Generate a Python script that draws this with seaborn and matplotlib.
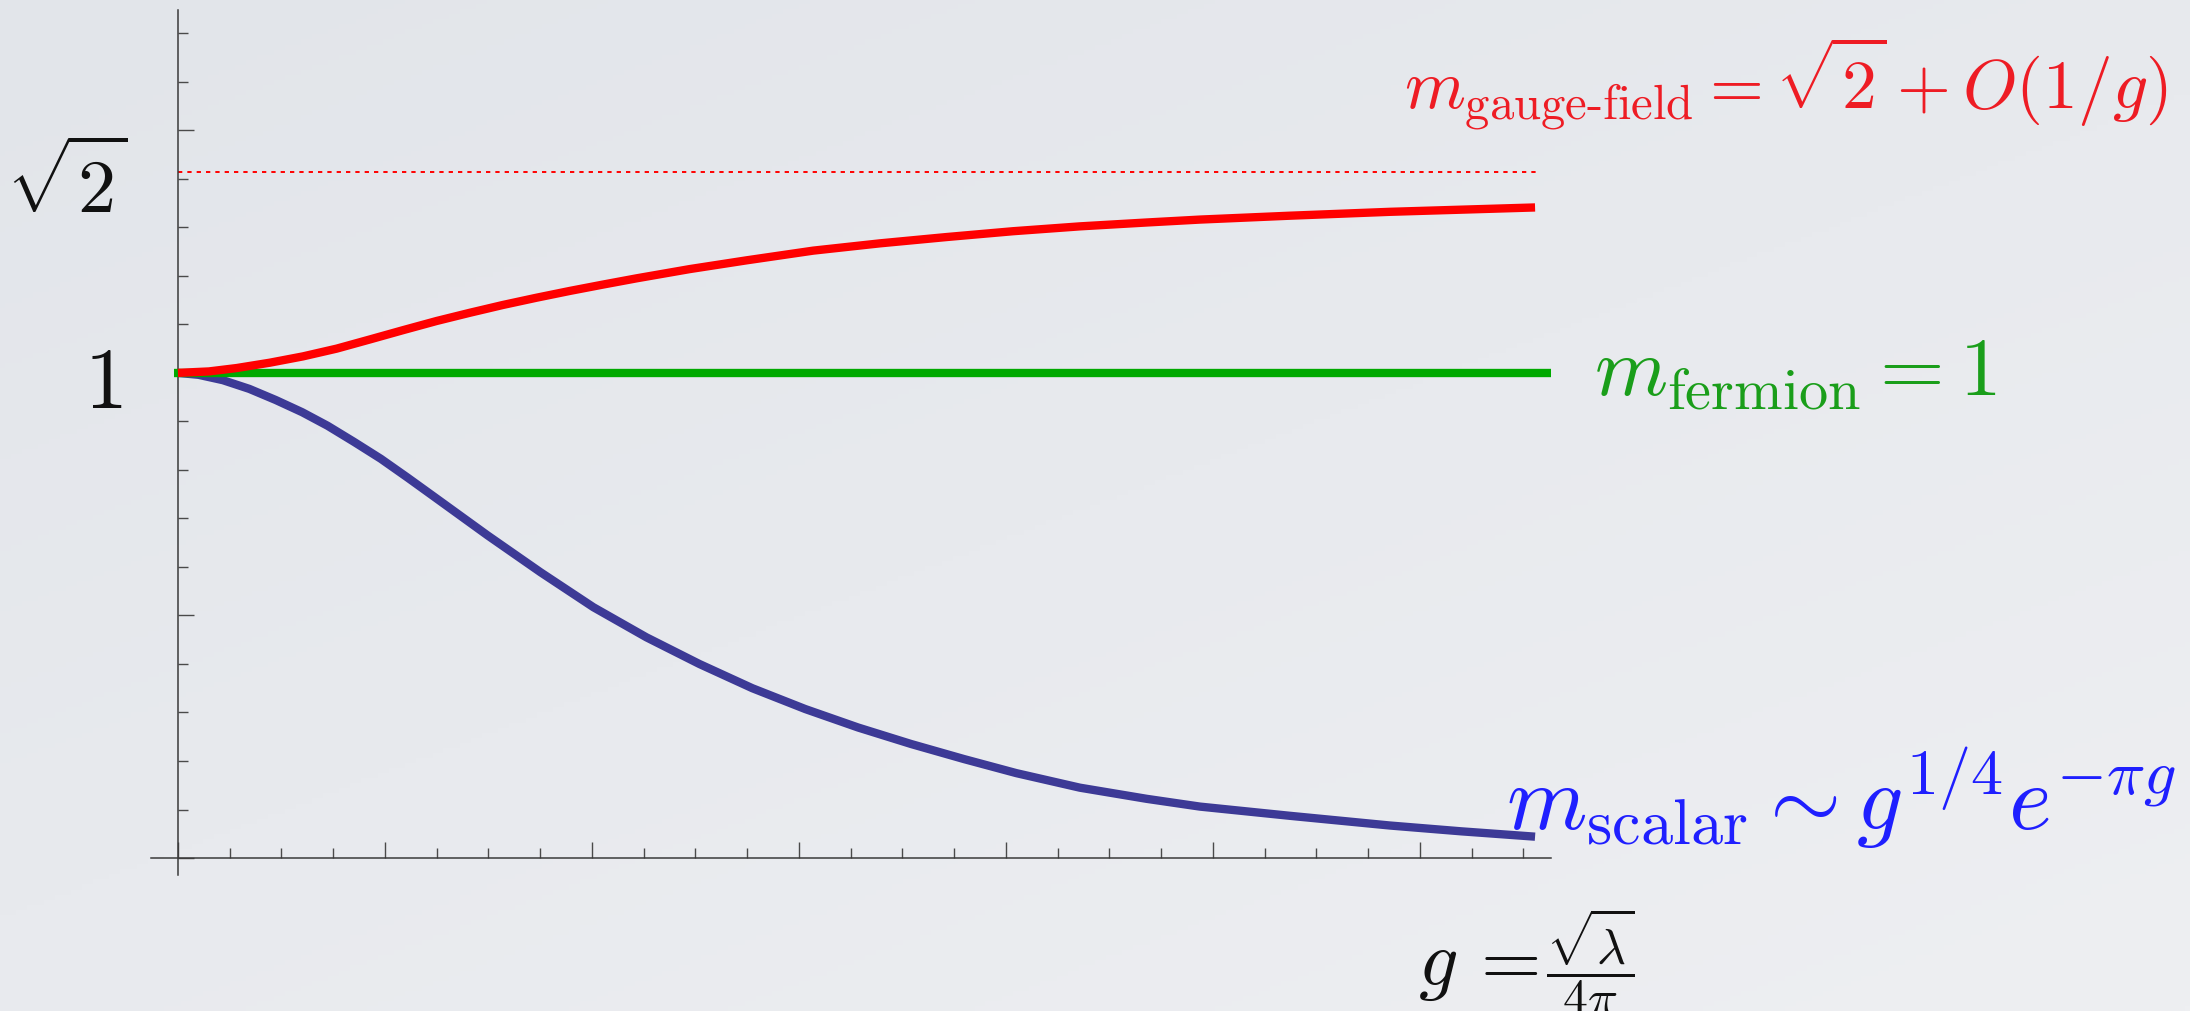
import numpy as np
import pandas as pd
import matplotlib
matplotlib.use("Agg")
import matplotlib.pyplot as plt
from matplotlib.ticker import MultipleLocator, NullFormatter
import seaborn as sns

# gauge-field mass branch, rising from 1 towards sqrt(2)
g_gauge = [0.0, 0.15, 0.284, 0.444, 0.604, 0.767, 0.928, 1.087, 1.25, 1.411, 1.57,
           1.733, 1.894, 2.053, 2.217, 2.473, 2.747, 3.069, 3.391, 3.713, 4.034,
           4.357, 4.68, 4.937, 5.372, 5.855, 6.556]
m_gauge = [1.000, 1.003, 1.010, 1.021, 1.034, 1.050, 1.069, 1.088, 1.107, 1.124, 1.140,
           1.155, 1.169, 1.182, 1.195, 1.214, 1.232, 1.252, 1.267, 1.280, 1.292,
           1.302, 1.310, 1.316, 1.324, 1.332, 1.341]

# scalar mass branch, falling off like g^(1/4) exp(-pi g)
g_scalar = [0.0, 0.1, 0.217, 0.345, 0.473, 0.6, 0.723, 0.850, 0.980, 1.110, 1.240,
            1.496, 1.752, 2.007, 2.263, 2.519, 2.775, 3.031, 3.286, 3.542, 3.797,
            4.05, 4.357, 4.68, 4.937, 5.372, 5.855, 6.2, 6.556]
m_scalar = [1.000, 0.996, 0.985, 0.967, 0.944, 0.919, 0.891, 0.858, 0.823, 0.784, 0.744,
            0.665, 0.589, 0.517, 0.455, 0.400, 0.350, 0.307, 0.269, 0.235, 0.204,
            0.175, 0.145, 0.122, 0.106, 0.087, 0.067, 0.055, 0.044]

# flat fermion mass and the sqrt(2) asymptote
g_fermion = [-0.02, 6.64]
m_fermion = [1.0, 1.0]
g_limit = [0.0, 6.57]
m_limit = [np.sqrt(2), np.sqrt(2)]

gauge = pd.DataFrame({"g": g_gauge, "m": m_gauge})
scalar = pd.DataFrame({"g": g_scalar, "m": m_scalar})

W, H = 2190, 1012
sns.set_theme(style="white")
plt.rcParams["mathtext.fontset"] = "cm"
plt.rcParams["font.family"] = ["DejaVu Serif"]

fig = plt.figure(figsize=(W / 100, H / 100), dpi=100)

# soft slide background
bg = fig.add_axes([0, 0, 1, 1], zorder=0)
yy, xx = np.mgrid[0:1:200j, 0:1:400j]
shade = 0.55 * yy + 0.45 * xx
c0 = np.array([226, 229, 234]) / 255
c1 = np.array([238, 239, 242]) / 255
img = c0[None, None, :] * (1 - shade[..., None]) + c1[None, None, :] * shade[..., None]
bg.imshow(img, aspect="auto", extent=[0, 1, 0, 1], origin="upper")
bg.set_axis_off()

ax = fig.add_axes([151 / W, 1 - 876 / H, 1400 / W, 865 / H], zorder=1)
ax.set_facecolor("none")
ax.set_xlim(-0.13, 6.633)
ax.set_ylim(-0.035, 1.748)

blue = "#3d3a96"
red = "#ff0000"
green = "#00a900"
lw = 6.0

sns.lineplot(data=scalar, x="g", y="m", ax=ax, color=blue, lw=lw,
             solid_capstyle="butt", solid_joinstyle="round", zorder=3, sort=False)
sns.lineplot(x=g_fermion, y=m_fermion, ax=ax, color=green, lw=lw,
             solid_capstyle="butt", zorder=4)
sns.lineplot(data=gauge, x="g", y="m", ax=ax, color=red, lw=lw,
             solid_capstyle="butt", solid_joinstyle="round", zorder=5, sort=False)
sns.lineplot(x=g_limit, y=m_limit, ax=ax, color=red, lw=1.4, zorder=2)
ax.lines[-1].set_linestyle((0, (2.2, 2.6)))

# axes crossing at the origin
for side in ("top", "right"):
    ax.spines[side].set_visible(False)
for side in ("left", "bottom"):
    ax.spines[side].set_position(("data", 0))
    ax.spines[side].set_color("#3a3a3a")
    ax.spines[side].set_linewidth(1.1)
ax.set_xlabel("")
ax.set_ylabel("")

ax.xaxis.set_major_locator(MultipleLocator(1.0))
ax.yaxis.set_major_locator(MultipleLocator(0.5))
ax.xaxis.set_major_formatter(NullFormatter())
ax.yaxis.set_major_formatter(NullFormatter())
ax.set_xticks([t for t in np.arange(0, 6.51, 0.25) if abs(t - round(t)) > 1e-9], minor=True)
ax.set_yticks([t for t in np.arange(0, 1.71, 0.1) if abs(t * 2 - round(t * 2)) > 1e-9], minor=True)
ax.tick_params(which="both", direction="in", color="#4a4a4a", width=1.0,
               bottom=True, left=True, top=False, right=False)
ax.tick_params(which="major", length=11.5)
ax.tick_params(which="minor", length=7.2)

def px(x, y):
    return x / W, 1 - y / H

# value labels on the vertical axis
fig.text(*px(122, 408), r"$1$", fontsize=62, ha="right", va="baseline", color="#111111")
fig.text(*px(127, 213), r"$\sqrt{2}$", fontsize=55, ha="right", va="baseline", color="#111111")

# curve annotations
fig.text(*px(1404, 110), r"$m_{\mathrm{gauge}\text{-}\mathrm{field}} = \sqrt{2} + O(1/g)$",
         fontsize=50, ha="left", va="baseline", color="#ee1c24")
fig.text(*px(1594, 395), r"$m_{\mathrm{fermion}} = 1$",
         fontsize=60, ha="left", va="baseline", color="#1a9e1a")
fig.text(*px(1506, 830), r"$m_{\mathrm{scalar}} \sim g^{1/4}e^{-\pi g}$",
         fontsize=66, ha="left", va="baseline", color="#1f1fff")

# horizontal axis name: g = sqrt(lambda) / (4 pi); the fraction follows "g =" on the right
lhs = fig.text(*px(1418, 985), r"$g\,=$", fontsize=56, ha="left", va="baseline",
               color="#111111")
fig.canvas.draw()
lhs_right = lhs.get_window_extent(fig.canvas.get_renderer()).x1
fig.text((lhs_right + 8) / W, 1 - 985 / H, r"$\dfrac{\sqrt{\lambda}}{4\pi}$", fontsize=36,
         ha="left", va="baseline", color="#111111")

fig.savefig("out.png", dpi=100)
